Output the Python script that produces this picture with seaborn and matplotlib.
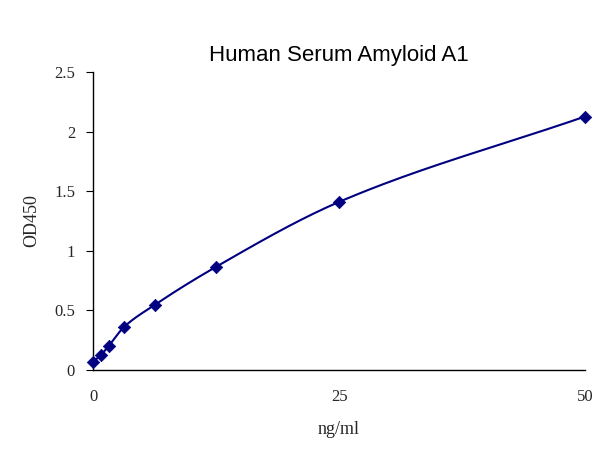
import numpy as np
import matplotlib
matplotlib.use("Agg")
import matplotlib.pyplot as plt
import seaborn as sns

conc = [0, 0.78, 1.56, 3.125, 6.25, 12.5, 25, 50]
od = [0.067, 0.126, 0.20, 0.36, 0.546, 0.866, 1.41, 2.126]
xticks = [0, 25, 50]
yticks = [0, 0.5, 1, 1.5, 2, 2.5]
ylabels = ["0", "0.5", "1", "1.5", "2", "2.5"]

sns.set_style("white")
plt.rcParams['font.family'] = ['Liberation Serif', 'DejaVu Serif']

# smooth monotone cubic (Fritsch-Carlson) for the connecting curve
x = np.array(conc, float); y = np.array(od, float)
h = np.diff(x); d = np.diff(y) / h
m = np.zeros_like(x)
m[0], m[-1] = d[0], d[-1]
for i in range(1, len(x) - 1):
    w1, w2 = 2*h[i] + h[i-1], h[i] + 2*h[i-1]
    m[i] = (w1 + w2) / (w1/d[i-1] + w2/d[i])
xs, ys = [], []
for i in range(len(h)):
    t = np.linspace(0, 1, 40)
    h00 = 2*t**3 - 3*t**2 + 1; h10 = t**3 - 2*t**2 + t
    h01 = -2*t**3 + 3*t**2; h11 = t**3 - t**2
    xs.extend(x[i] + t*h[i])
    ys.extend(h00*y[i] + h10*h[i]*m[i] + h01*y[i+1] + h11*h[i]*m[i+1])

fig = plt.figure(figsize=(6.05, 4.58), dpi=100)
ax = fig.add_axes([0.154, 0.192, 0.813, 0.651])
sns.lineplot(x=xs, y=ys, ax=ax, color="#000080", linewidth=1.5, sort=False)
sc = sns.scatterplot(x=conc, y=od, ax=ax, marker="D", s=40, color="#000080",
                     edgecolor="#000080", zorder=3, clip_on=False)
ax.set_xlim(0, 50); ax.set_ylim(0, 2.5)
ax.set_xticks(xticks); ax.set_yticks(yticks); ax.set_yticklabels(ylabels)
for s in ["top", "right"]:
    ax.spines[s].set_visible(False)
for s in ["left", "bottom"]:
    ax.spines[s].set_color("black"); ax.spines[s].set_linewidth(1)
ax.tick_params(axis="y", left=True, direction="out", length=5, color="black", labelsize=12, pad=8)
ax.tick_params(axis="x", bottom=False, labelsize=12, pad=10)
ax.set_xlabel("ng/ml", fontsize=13, labelpad=12)
ax.set_ylabel("OD450", fontsize=13, labelpad=10)
ax.set_title("Human Serum Amyloid A1", fontsize=16, family="Liberation Sans", color="black", pad=8)
fig.savefig("out.png", dpi=100)
